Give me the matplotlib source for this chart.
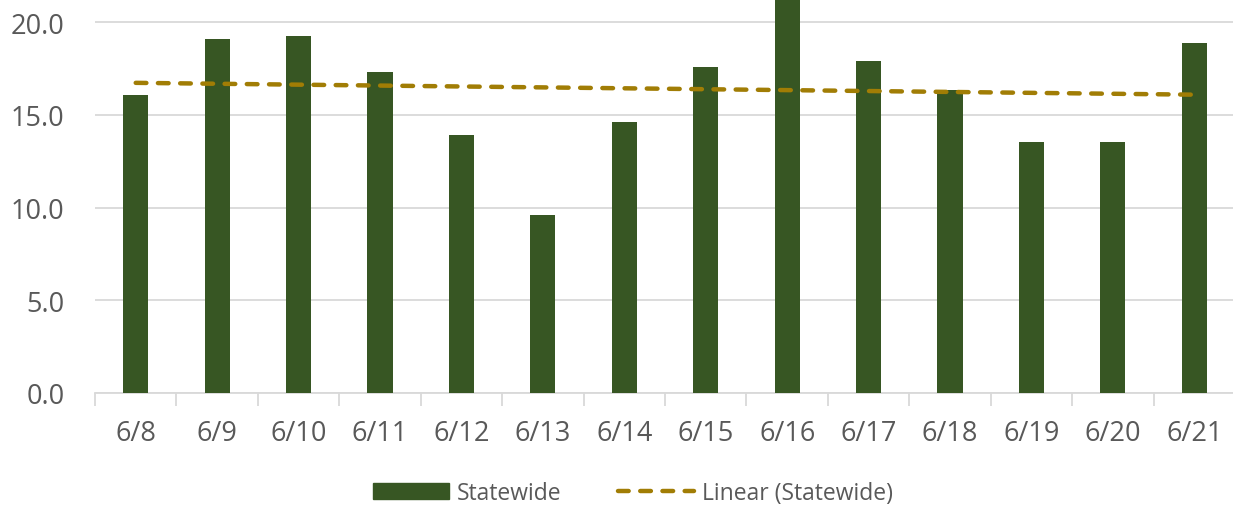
import numpy as np
import matplotlib
matplotlib.use("Agg")
import matplotlib.pyplot as plt
from matplotlib.patches import Patch
from matplotlib.lines import Line2D

categories = ["6/8", "6/9", "6/10", "6/11", "6/12", "6/13", "6/14",
              "6/15", "6/16", "6/17", "6/18", "6/19", "6/20", "6/21"]
statewide = [16.06, 19.08, 19.25, 17.3, 13.9, 9.6, 14.6,
             17.57, 22.1, 17.9, 16.33, 13.53, 13.53, 18.87]
y_ticks = [0, 5, 10, 15, 20]
y_tick_labels = ["0.0", "5.0", "10.0", "15.0", "20.0"]

plt.rcParams['font.family'] = ['Open Sans', 'DejaVu Sans']

bar_color = "#375623"
trend_color = "#A17D05"
grid_color = "#D9D9D9"
text_color = "#595959"

fig = plt.figure(figsize=(12.33, 5.06), dpi=100)
ax = fig.add_axes([95/1233, 1 - 394/506, 1140/1233, 394/506])

x = np.arange(len(categories))
ax.bar(x, statewide, width=0.31, color=bar_color, zorder=3)

# linear trend
coef = np.polyfit(x, statewide, 1)
trend = np.polyval(coef, x)
ax.plot(x, trend, color=trend_color, lw=3.2, dashes=(2.4, 2.6),
        dash_capstyle='round', zorder=4)

ax.set_xlim(-0.5, len(categories) - 0.5)
ax.set_ylim(0, 21.24)

ax.set_yticks(y_ticks)
ax.set_yticklabels(y_tick_labels)
ax.yaxis.grid(True, color=grid_color, lw=1.3, zorder=0)
ax.tick_params(axis='y', length=0, pad=22, labelsize=19.5, labelcolor=text_color)

ax.set_xticks(x)
ax.set_xticklabels(categories)
ax.set_xticks(np.arange(-0.5, len(categories), 1), minor=True)
ax.tick_params(axis='x', which='major', length=0, pad=19, labelsize=19.5,
               labelcolor=text_color)
ax.tick_params(axis='x', which='minor', length=9, width=1.3, color=grid_color)

for s in ['top', 'right', 'left']:
    ax.spines[s].set_visible(False)
ax.spines['bottom'].set_color(grid_color)
ax.spines['bottom'].set_linewidth(1.3)

handles = [Patch(facecolor=bar_color, edgecolor=bar_color),
           Line2D([0], [0], color=trend_color, lw=3.2, dashes=(2.4, 2.6),
                  dash_capstyle='round')]
fig.legend(handles, ["Statewide", "Linear (Statewide)"], loc='center',
           bbox_to_anchor=(633/1233, 1 - 494/506), ncol=2, frameon=False,
           fontsize=16.5, labelcolor=text_color, handlelength=3.3,
           handleheight=0.65, handletextpad=0.35, columnspacing=2.5)

fig.savefig("out.png", dpi=100)
